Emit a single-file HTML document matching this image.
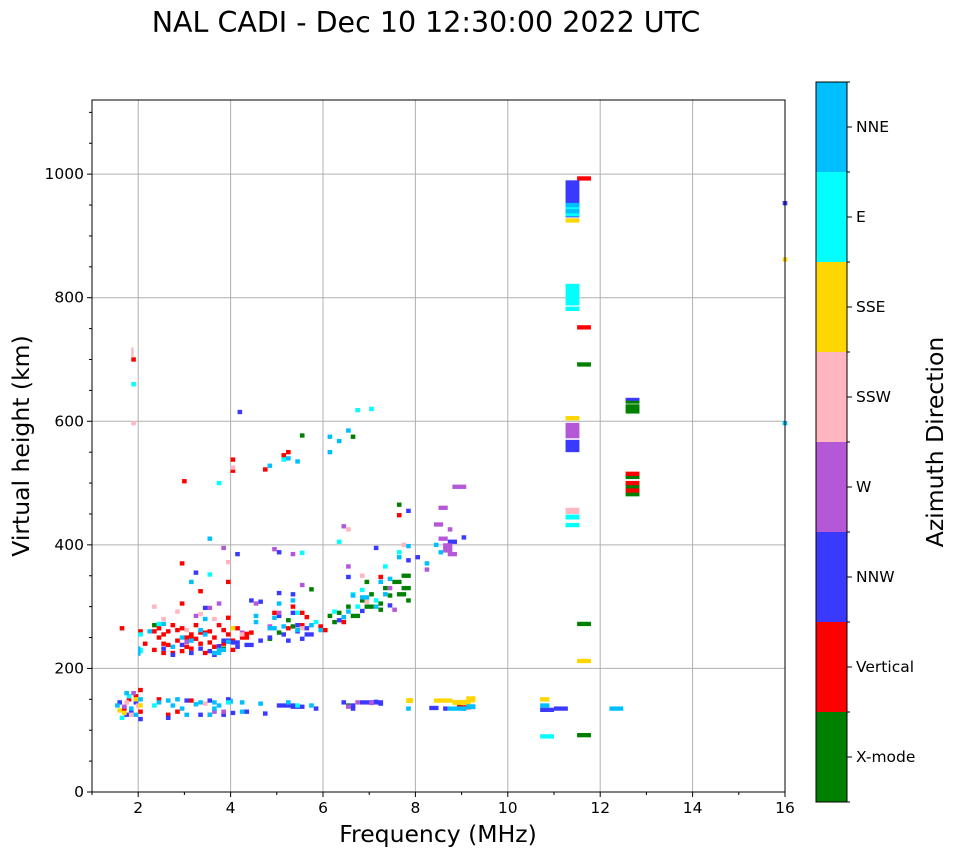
<!DOCTYPE html>
<html><head><meta charset="utf-8"><style>
html,body{margin:0;padding:0;background:#fff;}
svg{display:block;font-family:"DejaVu Sans","Liberation Sans",sans-serif;}
</style></head><body>
<svg id="chart" width="958" height="857" viewBox="0 0 958 857">
<text x="426" y="32" text-anchor="middle" font-size="28.5">NAL CADI - Dec 10 12:30:00 2022 UTC</text>
<g id="grid"></g>
<g id="cells"></g>
<rect x="92" y="100" width="693" height="692" fill="none" stroke="#000" stroke-width="1"/>
<g id="axes"></g>
<text x="438" y="842" text-anchor="middle" font-size="23.5">Frequency (MHz)</text>
<text transform="translate(29,446) rotate(-90)" text-anchor="middle" font-size="23.5">Virtual height (km)</text>
<g id="cbar"></g>
<text transform="translate(943,442) rotate(-90)" text-anchor="middle" font-size="23.5">Azimuth Direction</text>
</svg>
<script>
const dirLabels = ["X-mode","Vertical","NNW","W","SSW","SSE","E","NNE"];
const dirColors = ["#008000","#ff0000","#3a3aff","#b558d8","#ffb6c1","#ffd700","#00ffff","#00bfff"];
const xTicks = [2,4,6,8,10,12,14,16];
const yTicks = [0,200,400,600,800,1000];
// cells: [freq MHz, virtual height km, optional freq span MHz, optional height span km]
const xmodeCells = [[6.3,290],[6.5,300],[6.6,285,0.2],[6.8,310],[6.9,300,0.2],[7.0,320],[7.2,305],[7.3,330],[7.5,340,0.2],[7.6,320,0.2],[7.7,350,0.2],[7.7,330,0.2],[7.8,310],[7.6,465],[6.6,575],[5.5,577],[6.1,285],[6.2,275],[5.0,258],[5.3,268],[5.2,278],[4.8,248],[2.3,270],[3.8,232],[11.5,692,0.3],[11.5,272,0.3],[11.5,92,0.3],[12.55,620,0.3,15],[12.55,632,0.3],[12.55,510,0.3],[12.55,495,0.3,8],[12.55,482,0.3],[8.9,138],[6.5,140],[5.7,328],[6.9,340],[7.4,318],[7.2,295]];
const verticalCells = [[2.3,230],[2.4,250],[2.5,240],[2.6,260],[2.7,225],[2.8,245],[2.9,265],[3.0,235],[3.1,255],[3.2,270],[3.3,240],[3.4,225],[3.5,260],[3.6,250],[3.7,270],[3.8,240],[3.9,255],[4.0,230],[4.1,265],[4.2,250,0.2],[4.4,258],[2.3,260],[2.5,225],[2.7,270],[3.0,250,0.2],[3.3,258,0.2],[2.9,228],[3.6,235],[3.9,282],[4.0,245],[4.3,256],[2.9,370],[2.9,305],[3.3,325],[3.9,340],[4.0,520],[4.0,538],[2.95,503],[4.7,522],[5.1,545],[5.2,550],[5.5,290],[5.6,283],[4.9,290],[5.3,300],[7.6,448],[8.9,137,0.3],[11.5,993,0.3],[11.5,752,0.3],[12.55,515,0.3],[12.55,500,0.3],[12.55,488,0.3],[1.85,700],[2.0,165],[1.75,150],[1.65,135],[2.4,150],[2.6,125],[2.8,130],[3.1,148],[3.5,125],[1.6,265],[2.0,260],[2.1,240],[5.2,265],[5.5,270],[5.9,268],[6.0,262],[6.4,275],[7.2,348],[1.9,155],[2.0,130],[2.5,255],[2.8,262],[3.1,232],[3.5,242],[2.6,238],[3.2,248],[2.4,265],[3.8,262]];
const nnwCells = [[11.25,960,0.3,60],[11.25,560,0.3,20],[12.55,636,0.3,4],[2.5,232],[2.7,222],[2.9,238],[3.1,225],[3.3,232],[3.5,228],[3.7,236],[3.8,245,0.2],[4.0,242,0.2],[4.3,238,0.2],[4.6,245],[4.8,250],[5.1,255],[5.2,245],[5.4,260],[5.6,255,0.2],[5.6,265],[5.4,270],[5.0,285],[5.3,290],[5.0,322],[5.3,320],[4.4,310],[4.6,308],[3.4,298],[4.1,385],[4.15,615],[5.0,388],[6.3,278],[6.5,348],[6.8,293],[7.1,395],[7.4,302],[7.8,455],[8.7,405,0.2],[9.0,412],[7.8,375],[8.0,380],[3.5,148],[3.3,125],[3.8,125],[4.0,128],[4.3,130],[4.7,127],[5.0,140,0.4],[5.3,138,0.3],[5.8,135],[6.4,145],[6.6,140],[6.8,145,0.5],[7.1,146],[6.6,135],[7.2,143],[2.6,120],[3.0,148],[3.9,150],[8.3,136,0.2],[8.6,135],[9.0,135],[10.7,133,0.3],[11.0,135,0.3],[15.95,953],[1.7,125],[1.8,130],[1.9,145],[2.0,118],[1.55,145],[3.2,355],[3.6,222],[4.1,235],[5.5,248]];
const wCells = [[11.25,585,0.3,25],[8.5,460,0.2],[8.6,395,0.2,15],[8.7,385,0.2],[8.4,433,0.2],[8.7,425],[8.8,494,0.3],[8.5,410,0.2],[3.2,285],[3.5,298],[3.7,305],[4.5,305],[5.0,290],[5.5,387],[5.3,385],[6.4,430],[6.5,365],[3.0,243],[3.8,130],[6.5,138],[6.7,145],[7.0,144],[4.2,258],[4.8,268],[5.5,335],[1.65,138],[1.85,160],[8.2,360],[7.4,330],[7.5,295],[3.6,130],[4.9,393],[3.8,395]];
const sswCells = [[1.85,712,0.05,15],[1.85,597],[11.25,455,0.3,10],[2.3,300],[2.5,280],[3.0,262],[3.3,288],[3.6,280],[4.0,525],[6.5,425],[4.2,255],[2.8,292],[1.7,145],[1.8,125],[1.95,140],[5.5,265],[6.9,308],[7.7,400],[6.8,350],[3.4,143],[3.9,372]];
const sseCells = [[11.25,925,0.3],[11.25,605,0.3],[11.5,212,0.3],[8.4,148,0.4],[8.8,145,0.4,8],[9.1,150,0.2,10],[10.7,150,0.2],[7.8,148,0.15,8],[15.95,862],[1.65,128],[1.9,150],[1.55,132],[2.0,140],[4.0,265]];
const eCells = [[11.25,805,0.3,35],[11.25,782,0.3],[11.25,935,0.3],[11.25,445,0.3,8],[11.25,432,0.3],[1.85,660],[2.0,230],[2.0,255],[2.4,272],[3.5,352],[6.7,618],[7.0,620],[6.3,405],[6.6,320],[7.1,310],[7.6,388],[6.7,300],[5.8,275],[5.4,290],[7.3,365],[10.7,90,0.3],[11.25,945,0.3],[2.3,140],[3.9,145],[1.75,155],[1.6,120],[5.4,140],[2.0,228],[6.2,292],[6.8,327],[5.5,387],[5.1,538],[3.7,500]];
const nneCells = [[11.25,950,0.3],[11.25,940,0.3],[12.2,135,0.3],[9.1,138,0.2,8],[8.7,135,0.4],[7.8,135],[4.0,147,0.05,8],[3.6,135],[3.6,145],[3.3,145],[3.5,125],[3.7,140],[2.4,145],[2.6,148],[2.9,135],[3.0,125],[3.2,142],[4.2,130],[4.2,145],[4.6,143],[5.2,145],[5.7,140],[2.0,228,0.05,15],[2.2,260],[2.5,272],[2.7,235],[3.1,245],[3.3,262],[3.4,280],[3.7,230,0.2],[3.9,243],[4.5,275],[4.8,265,0.2],[5.1,268],[5.4,262],[5.7,270],[5.2,540],[5.4,535],[4.8,528],[6.1,575],[6.3,568],[6.5,585],[6.1,550],[6.6,318],[6.8,315,0.2],[7.1,300],[7.3,320],[7.2,340],[7.6,380],[7.8,398],[8.2,370],[8.4,400],[8.5,388],[6.4,283],[6.5,292],[5.9,262],[3.1,340],[3.5,410],[2.8,150],[2.7,140],[1.8,135],[1.5,140],[1.7,160],[1.9,125],[2.0,150],[10.7,140,0.2],[5.0,305],[5.3,310],[4.9,282],[4.5,285],[15.95,597],[7.4,345],[3.6,225,0.2],[2.9,250],[3.4,255]];
const seriesCells = [xmodeCells,verticalCells,nnwCells,wCells,sswCells,sseCells,eCells,nneCells];

const NS="http://www.w3.org/2000/svg";
const L=92,R=785,T=100,B=792,fMin=1,fMax=16,hMin=0,hMax=1120;
const X=f=>L+(f-fMin)/(fMax-fMin)*(R-L);
const Y=h=>B-(h-hMin)/(hMax-hMin)*(B-T);
function mk(tag,attrs,parent){const e=document.createElementNS(NS,tag);for(const k in attrs)e.setAttribute(k,attrs[k]);parent.appendChild(e);return e;}
const grid=document.getElementById('grid'),axes=document.getElementById('axes'),cells=document.getElementById('cells'),cbar=document.getElementById('cbar');
xTicks.forEach(v=>{
  const x=X(v);
  const g=mk('line',{x1:x,x2:x,y1:T,y2:B,stroke:'#b0b0b0','stroke-width':1},grid);
  
  
  const t=mk('line',{x1:x,x2:x,y1:B,y2:B+5,stroke:'#000'},axes);
  
  
  const lb=mk('text',{x:x,y:B+21,'text-anchor':'middle','font-size':15.5},axes);
  lb.textContent=v;
  
  
});
for(let v=1;v<=16;v+=2){const x=X(v);const m=mk('line',{x1:x,x2:x,y1:B,y2:B+3,stroke:'#000'},axes);
  
  }
yTicks.forEach(v=>{
  const y=Y(v);
  const g=mk('line',{x1:L,x2:R,y1:y,y2:y,stroke:'#b0b0b0','stroke-width':1},grid);
  
  
  const t=mk('line',{x1:L-5,x2:L,y1:y,y2:y,stroke:'#000'},axes);
  
  
  const lb=mk('text',{x:L-8,y:y+5,'text-anchor':'end','font-size':15.5},axes);
  lb.textContent=v;
  
  
});
for(let v=50;v<=1100;v+=50){if(v%200===0)continue;const y=Y(v);const m=mk('line',{x1:L-3,x2:L,y1:y,y2:y,stroke:'#000'},axes);
  
  }
seriesCells.forEach((arr,i)=>{
  arr.forEach(c=>{
    const f=c[0],h=c[1],fw=c[2]||0.1,hh=c[3]||7;
    const x=X(f),y=Y(h+hh/2);
    const r=mk('rect',{x:x,y:y,width:Math.max(1,X(f+fw)-x),height:Math.max(3,Y(h-hh/2)-y),fill:dirColors[i]},cells);
    
    
  });
});
const cbL=816,cbW=31,cbT=82,cbB=802,seg=(cbB-cbT)/dirLabels.length;
dirLabels.forEach((lab,i)=>{
  const y0=cbB-(i+1)*seg;
  const r=mk('rect',{x:cbL,y:y0,width:cbW,height:seg,fill:dirColors[i]},cbar);
  
  
  const tk=mk('line',{x1:cbL+cbW,x2:cbL+cbW+5,y1:y0+seg/2,y2:y0+seg/2,stroke:'#000'},cbar);
  
  
  const t=mk('text',{x:cbL+cbW+9,y:y0+seg/2+5,'font-size':15.5},cbar);
  t.textContent=lab;
  
  
});
for(let i=0;i<=dirLabels.length;i++){const y=cbT+i*seg;const m=mk('line',{x1:cbL+cbW,x2:cbL+cbW+3,y1:y,y2:y,stroke:'#000'},cbar);
  
  }
const fr=mk('rect',{x:cbL,y:cbT,width:cbW,height:cbB-cbT,fill:'none',stroke:'#000'},cbar);


</script>
</body></html>
